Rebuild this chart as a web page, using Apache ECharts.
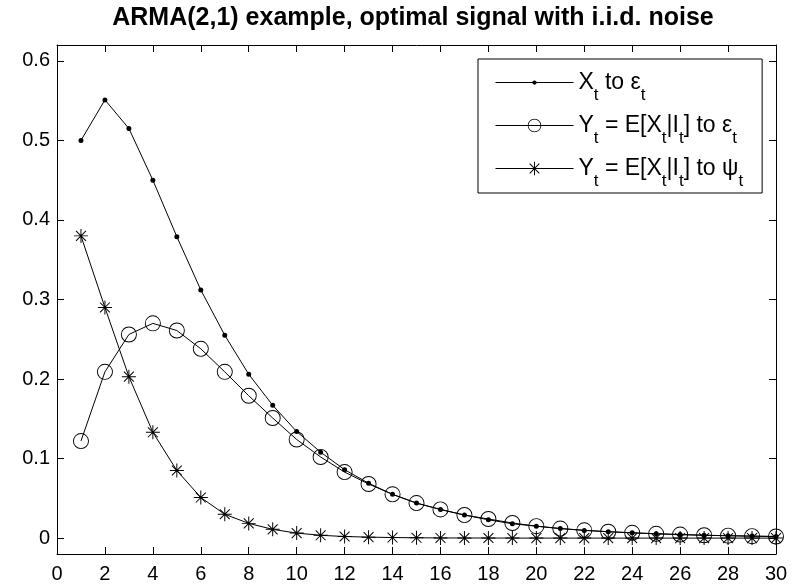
<!DOCTYPE html>
<html>
<head>
<meta charset="utf-8">
<script src="https://cdn.jsdelivr.net/npm/echarts@6/dist/echarts.min.js"></script>
<style>html,body{margin:0;padding:0;background:#fff;}#c{width:805px;height:587px;}</style>
</head>
<body>
<div id="c"></div>
<script>
const titleText = 'ARMA(2,1) example, optimal signal with i.i.d. noise';
const seriesNames = ['X_t to ε_t', 'Y_t = E[X_t|I_t] to ε_t', 'Y_t = E[X_t|I_t] to ψ_t'];
const xs = [1,2,3,4,5,6,7,8,9,10,11,12,13,14,15,16,17,18,19,20,21,22,23,24,25,26,27,28,29,30];
const xToEps = [0.500,0.551,0.515,0.450,0.379,0.312,0.255,0.206,0.167,0.134,0.108,0.086,0.069,0.055,0.044,0.036,0.029,0.023,0.018,0.015,0.012,0.0097,0.008,0.0067,0.0054,0.0045,0.0035,0.003,0.0025,0.002];
const yToEps = [0.122,0.209,0.256,0.270,0.261,0.238,0.209,0.179,0.151,0.124,0.102,0.083,0.068,0.055,0.044,0.036,0.029,0.024,0.019,0.015,0.012,0.0098,0.008,0.0066,0.0054,0.0044,0.0036,0.003,0.0024,0.002];
const yToPsi = [0.380,0.290,0.203,0.133,0.085,0.051,0.030,0.0185,0.011,0.0063,0.0035,0.002,0.0012,0.0007,0.0004,0.0002,0.0001,0.0001,0,0,0,0,0,0,0,0,0,0,0,0];
const xTicks = {min: 0, max: 30, interval: 2};
const yRange = {min: -0.02, max: 0.62};

const FONT = '"Liberation Sans", Arial, Helvetica, sans-serif';
const dotPath = 'path://M0,-2.5 A2.5,2.5 0 1,1 0,2.5 A2.5,2.5 0 1,1 0,-2.5 Z M-8,-8 L-8,-8 Z M8,8 L8,8 Z';
const ringPath = 'path://M0,-8 A8,8 0 1,1 0,8 A8,8 0 1,1 0,-8 Z M0,-7.1 A7.1,7.1 0 1,0 0,7.1 A7.1,7.1 0 1,0 0,-7.1 Z';
const starPath = 'path://M-0.7,-10 L0.7,-10 L0.7,10 L-0.7,10 Z M-10,-0.7 L10,-0.7 L10,0.7 L-10,0.7 Z ' +
  'M-6.575,-7.565 L7.565,6.575 L6.575,7.565 L-7.565,-6.575 Z ' +
  'M-6.575,7.565 L-7.565,6.575 L6.575,-7.565 L7.565,-6.575 Z';

function pairs(ys) { return xs.map((x, i) => [x, ys[i]]); }
function mkSeries(name, ys, symbol, size) {
  return {
    name: name, type: 'line', data: pairs(ys), symbol: symbol, symbolSize: size,
    showSymbol: true, lineStyle: {color: '#000', width: 1}, itemStyle: {color: '#000'},
    emphasis: {disabled: true}, silent: true
  };
}
const axisCommon = {
  axisLine: {show: true, onZero: false, lineStyle: {color: '#000', width: 1}},
  axisTick: {show: true, inside: true, length: 7, lineStyle: {color: '#000', width: 1}},
  splitLine: {show: false}
};
const chart = echarts.init(document.getElementById('c'), null, {renderer: 'canvas'});
chart.setOption({
  animation: false,
  backgroundColor: '#fff',
  title: {
    text: titleText, left: 413, top: 6, textAlign: 'center', padding: 0,
    textStyle: {fontFamily: FONT, fontSize: 25, fontWeight: 'bold', color: '#000'}
  },
  grid: {left: 57, right: 29, top: 45, bottom: 33, containLabel: false},
  xAxis: [
    Object.assign({type: 'value', position: 'bottom', min: xTicks.min, max: xTicks.max, interval: xTicks.interval,
      axisLabel: {show: true, color: '#000', fontFamily: FONT, fontSize: 20, margin: 10}}, axisCommon),
    Object.assign({type: 'value', position: 'top', min: xTicks.min, max: xTicks.max, interval: xTicks.interval,
      axisLabel: {show: false}}, axisCommon)
  ],
  yAxis: [
    Object.assign({type: 'value', position: 'left', min: yRange.min, max: yRange.max,
      axisLabel: {show: true, color: '#000', fontFamily: FONT, fontSize: 20, margin: 7,
        showMinLabel: false, showMaxLabel: false,
        formatter: function (v) { return Math.abs(v * 10 - Math.round(v * 10)) < 1e-6 ? String(Math.round(v * 10) / 10) : ''; }}}, axisCommon),
    Object.assign({type: 'value', position: 'right', min: yRange.min, max: yRange.max,
      axisLabel: {show: false}}, axisCommon)
  ],
  legend: {
    orient: 'vertical', left: 478, top: 59, selectedMode: false,
    itemWidth: 78, itemHeight: 17, itemGap: 10,
    padding: [12, 19, 3, 17],
    backgroundColor: '#fff', borderColor: '#000', borderWidth: 1, borderRadius: 0,
    lineStyle: {width: 1, color: '#000'},
    data: seriesNames,
    formatter: function (name) { return name.replace(/_t/g, '{s|t}'); },
    textStyle: {
      fontFamily: FONT, fontSize: 23, color: '#000',
      rich: {s: {fontFamily: FONT, fontSize: 17, color: '#000', padding: [26, 0, 0, 0]}}
    }
  },
  series: [
    mkSeries(seriesNames[0], xToEps, dotPath, 16),
    mkSeries(seriesNames[1], yToEps, ringPath, 16),
    mkSeries(seriesNames[2], yToPsi, starPath, 14)
  ]
});
</script>
</body>
</html>
